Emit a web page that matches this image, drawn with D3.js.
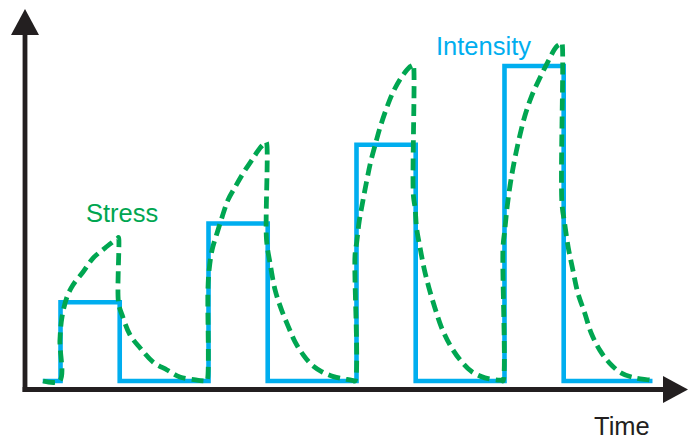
<!DOCTYPE html>
<html>
<head>
<meta charset="utf-8">
<script src="https://cdn.jsdelivr.net/npm/d3@7"></script>
<style>
  html, body { margin: 0; padding: 0; background: #ffffff; }
  svg { display: block; }
  text { font-family: "Liberation Sans", Arial, Helvetica, sans-serif; }
</style>
</head>
<body>
<svg id="chart" width="695" height="439"></svg>
<script>
// ---- Data (time units, relative stress/intensity units) ----
const intensityTimes  = [-0.6, 0, 2, 5, 7, 10, 12, 15, 17, 20];
const intensityValues = [0, 25, 0, 50, 0, 75, 0, 100, 0, 0];

const stressTimes = [
  -0.59, -0.03, -0.02, 0.05, 0.22, 0.42, 0.76, 1.10, 1.50, 1.94, 1.96,
  1.96, 2.08, 2.35, 2.69, 3.13, 3.60, 4.03, 4.61, 4.92,
  4.95, 4.98, 5.02, 5.12, 5.29, 5.46, 5.66, 5.90, 6.17, 6.47, 6.74, 6.91, 6.95,
  6.96, 7.08, 7.25, 7.47, 7.70, 7.92, 8.20, 8.49, 8.82, 9.22, 9.67, 9.89,
  9.95, 9.95, 10.01, 10.09, 10.21, 10.34, 10.48, 10.63, 10.79, 11.02, 11.24, 11.53, 11.81, 11.90, 11.92,
  11.92, 11.98, 12.03, 12.15, 12.28, 12.45, 12.65, 12.88, 13.16, 13.50, 13.89, 14.34, 14.78, 14.91,
  14.95, 14.95, 15.01, 15.09, 15.20, 15.34, 15.51, 15.68, 15.91, 16.19, 16.47, 16.75, 16.92, 16.94,
  16.94, 17.03, 17.15, 17.31, 17.48, 17.71, 17.93, 18.22, 18.55, 18.95, 19.40, 19.91, 20.02
];
const stressValues = [
  0, 0, 13.0, 20.3, 26.7, 30.5, 34.6, 39.0, 42.2, 45.4, 45.6,
  24.8, 21.0, 14.6, 10.5, 6.0, 3.5, 1.3, 0.3, 0,
  0, 28.9, 35.2, 41.6, 47.0, 52.1, 57.5, 61.6, 66.0, 70.2, 74.0, 75.6, 75.9,
  44.8, 37.4, 28.9, 22.5, 17.2, 12.5, 8.3, 5.1, 3.0, 1.4, 0.5, 0.1,
  0, 40.0, 44.2, 50.6, 56.9, 63.3, 69.6, 74.9, 80.3, 86.7, 91.8, 96.6, 99.8, 100.3, 100.5,
  59.0, 54.9, 48.6, 42.2, 35.9, 29.5, 23.2, 16.8, 11.4, 6.7, 3.0, 1.0, 0.3, 0.2,
  0, 42.6, 47.9, 55.3, 62.8, 70.2, 77.6, 83.9, 90.3, 96.1, 101.4, 106.1, 107.2, 107.4,
  56.5, 50.2, 42.6, 35.2, 27.9, 21.6, 15.2, 9.8, 5.7, 2.5, 1.0, 0.3, 0
];

const labels = [
  { text: "Stress",    x: 86,  y: 222, color: "#00a651" },
  { text: "Intensity", x: 436, y: 55,  color: "#00aeef" },
  { text: "Time",      x: 594, y: 435, color: "#231f20" }
];

// ---- Scales ----
const x = d3.scaleLinear().domain([-1.2, 21.166]).range([25, 687]);
const y = d3.scaleLinear().domain([-2.698, 117.78]).range([389.5, 10]);

const svg = d3.select("#chart");
const axisColor = "#231f20";

// ---- Axes with arrowheads ----
const x0 = x(-1.2), yBase = y(-2.698);
svg.append("line")
  .attr("x1", x0).attr("y1", yBase + 2.5)
  .attr("x2", x0).attr("y2", 30)
  .attr("stroke", axisColor).attr("stroke-width", 4.8);
svg.append("path")
  .attr("d", `M${x0 - 14},${35} L${x0},${9} L${x0 + 14},${35} Z`)
  .attr("fill", axisColor);
svg.append("line")
  .attr("x1", x0 - 2.4).attr("y1", yBase)
  .attr("x2", 666).attr("y2", yBase)
  .attr("stroke", axisColor).attr("stroke-width", 4.8);
svg.append("path")
  .attr("d", `M663,${yBase - 13.5} L688,${yBase} L663,${yBase + 13.5} Z`)
  .attr("fill", axisColor);

// ---- Intensity (step line) ----
const intensityData = intensityTimes.map((t, i) => [t, intensityValues[i]]);
const stepLine = d3.line().x(d => x(d[0])).y(d => y(d[1])).curve(d3.curveStepAfter);
svg.append("path")
  .datum(intensityData)
  .attr("d", stepLine)
  .attr("fill", "none")
  .attr("stroke", "#00aeef")
  .attr("stroke-width", 4.6)
  .attr("stroke-linejoin", "miter");

// ---- Stress (dashed curve) ----
const stressData = stressTimes.map((t, i) => [t, stressValues[i]]);
const stressLine = d3.line().x(d => x(d[0])).y(d => y(d[1])).curve(d3.curveCatmullRom.alpha(0.5));
svg.append("path")
  .datum(stressData)
  .attr("d", stressLine)
  .attr("fill", "none")
  .attr("stroke", "#00a651")
  .attr("stroke-width", 4.8)
  .attr("stroke-dasharray", "12,6");

// ---- Labels ----
svg.selectAll("text.lbl")
  .data(labels)
  .enter().append("text")
  .attr("class", "lbl")
  .attr("x", d => d.x)
  .attr("y", d => d.y)
  .attr("fill", d => d.color)
  .attr("font-size", "25.5px")
  .text(d => d.text);
</script>
</body>
</html>
